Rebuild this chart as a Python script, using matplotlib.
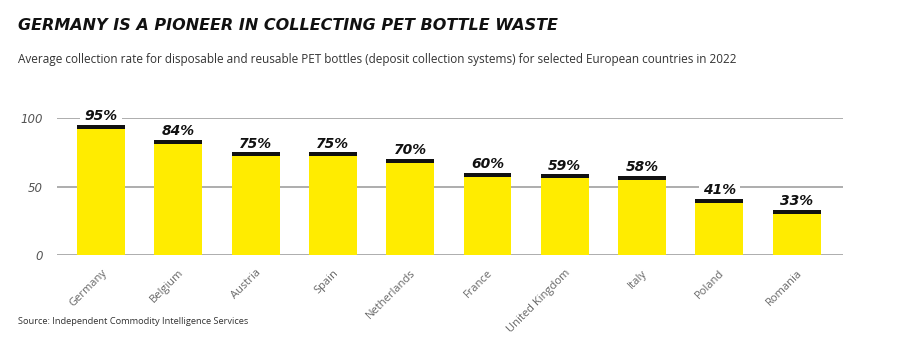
import numpy as np
import matplotlib
matplotlib.use("Agg")
from matplotlib import pyplot as plt

countries = ["Germany", "Belgium", "Austria", "Spain", "Netherlands",
             "France", "United Kingdom", "Italy", "Poland", "Romania"]
rates = [95, 84, 75, 75, 70, 60, 59, 58, 41, 33]
yticks = [0, 50, 100]

title = "GERMANY IS A PIONEER IN COLLECTING PET BOTTLE WASTE"
subtitle = ("Average collection rate for disposable and reusable PET bottles "
            "(deposit collection systems) for selected European countries in 2022")
source = "Source: Independent Commodity Intelligence Services"

yellow = "#FFEC00"
cap_col = "#111111"
grid_col = "#a0a0a0"


def _plot_rates(countries, rates):
	fig = plt.figure(figsize=(9, 3.39), dpi=100)
	ax = fig.add_axes([57 / 900, 1 - 255 / 339, (843 - 57) / 900, 137 / 339])

	x = np.arange(len(countries))
	r = np.array(rates, dtype=float)
	w = 0.62
	cap = 3.0

	for yv in yticks:
		ax.axhline(yv, color=grid_col, lw=1.2, zorder=0)

	# yellow body, then black top strip stacked on it
	ax.bar(x, r - cap, width=w, color=yellow, lw=0, zorder=2)
	ax.bar(x, cap, width=w, bottom=r - cap, color=cap_col, lw=0, zorder=2)

	# white box behind the labels cuts the gridline, but stays under the bars
	for xi, v in zip(x, rates):
		ax.text(xi, v + 1.2, "%d%%" % v, ha="center", va="bottom",
		        fontsize=10, fontweight="heavy", style="italic", color="#111111",
		        family="DejaVu Sans", zorder=1,
		        bbox=dict(facecolor="white", edgecolor="none", pad=3))

	ax.set_xlim(-0.57, 9.6)
	ax.set_ylim(0, 100)
	ax.set_yticks(yticks)
	ax.set_yticklabels([str(t) for t in yticks], style="italic", color="#555555",
	                   fontsize=8.5)
	ax.set_xticks(x)
	ax.set_xticklabels(countries, rotation=45, ha="right", rotation_mode="anchor",
	                   color="#666666", fontsize=8, family="Open Sans")
	ax.tick_params(axis="both", length=0)
	ax.tick_params(axis="y", pad=10)
	ax.tick_params(axis="x", pad=9)
	for s in ax.spines.values():
		s.set_visible(False)
	ax.set_facecolor("none")

	fig.text(18 / 900, 1 - 25 / 339, title, fontsize=11.5, fontweight="heavy",
	         style="italic", color="#111111", va="center", family="DejaVu Sans")
	fig.text(18 / 900, 1 - 60 / 339, subtitle, fontsize=8.5, color="#333333",
	         va="center", family="Open Sans")
	fig.text(18 / 900, 1 - 322 / 339, source, fontsize=6.7, color="#333333",
	         va="center", family="Open Sans")

	fig.savefig("out.png", dpi=100)


if __name__ == '__main__':
	_plot_rates(countries, rates)
